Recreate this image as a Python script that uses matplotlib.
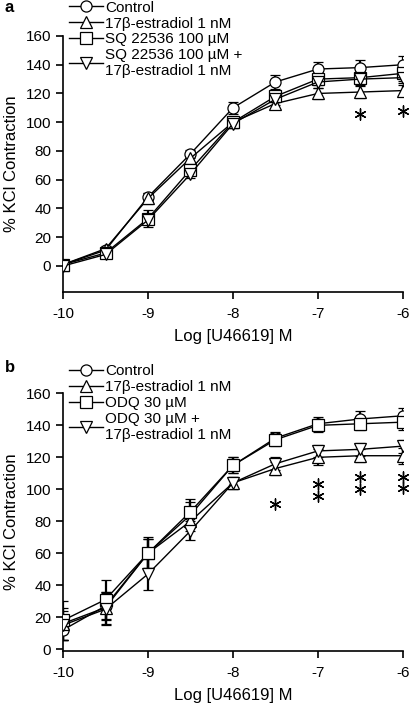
import numpy as np
import matplotlib
matplotlib.use('Agg')
import matplotlib.pyplot as plt

plt.rcParams['font.family'] = ['Liberation Sans', 'DejaVu Sans']
plt.rcParams['font.size'] = 11
plt.rcParams['axes.unicode_minus'] = False

log_conc = [-10, -9.5, -9, -8.5, -8, -7.5, -7, -6.5, -6]

# panel a
a_labels = ['Control', '17\u03b2-estradiol 1 nM', 'SQ 22536 100 \u00b5M',
            'SQ 22536 100 \u00b5M +\n17\u03b2-estradiol 1 nM']
a_control = [1, 11, 48, 78, 110, 128, 137, 138, 140]
a_control_err = [2, 2, 3, 3, 4, 5, 5, 5, 6]
a_e2 = [1, 12, 47, 75, 100, 113, 120, 121, 122]
a_e2_err = [2, 2, 4, 3, 3, 4, 4, 4, 4]
a_sq = [1, 9, 33, 67, 100, 118, 130, 131, 134]
a_sq_err = [2, 2, 6, 3, 3, 4, 4, 4, 5]
a_sq_e2 = [0, 8, 32, 64, 99, 116, 128, 130, 131]
a_sq_e2_err = [2, 2, 3, 3, 3, 4, 4, 4, 4]
a_star_x = [-6.5, -6]
a_star_y = [106, 108]

# panel b
b_labels = ['Control', '17\u03b2-estradiol 1 nM', 'ODQ 30 \u00b5M',
            'ODQ 30 \u00b5M +\n17\u03b2-estradiol 1 nM']
b_control = [12, 27, 60, 84, 115, 132, 141, 144, 146]
b_control_err = [6, 9, 9, 8, 5, 4, 4, 5, 5]
b_e2 = [16, 26, 60, 80, 104, 113, 120, 121, 121]
b_e2_err = [10, 10, 9, 6, 4, 4, 5, 4, 5]
b_odq = [18, 31, 60, 86, 115, 131, 140, 141, 142]
b_odq_err = [12, 12, 10, 8, 5, 4, 4, 4, 5]
b_odq_e2 = [15, 25, 47, 74, 104, 116, 124, 125, 127]
b_odq_e2_err = [9, 10, 10, 6, 4, 4, 4, 4, 4]
b_star_x = [-7.5, -7, -7, -6.5, -6.5, -6, -6]
b_star_y = [90.5, 103.5, 95.5, 107.5, 100, 108, 100.5]

markers = ['o', '^', 's', 'v']


def draw_panel(ax, series, errs, labels, star_x, star_y, ylo, tag, tag_y, leg_y):
    handles = []
    for y, e, m, lab in zip(series, errs, markers, labels):
        c = ax.errorbar(log_conc, y, yerr=e, fmt='-', marker=m, color='black',
                        mfc='white', mec='black', ms=8, mew=0.9, lw=1.0,
                        ecolor='black', elinewidth=1.6, capsize=3.5, capthick=1.6,
                        zorder=3)
        handles.append(c[0])
    ax.scatter(star_x, star_y, marker=(6, 2, 0), s=65, color='black', lw=1.0,
               clip_on=False)
    ax.set_xlim(-10, -6)
    ax.set_ylim(ylo, 160)
    ax.set_xticks([-10, -9, -8, -7, -6])
    ax.set_yticks(range(0, 161, 20))
    ax.spines['top'].set_visible(False)
    ax.spines['right'].set_visible(False)
    ax.spines['left'].set_linewidth(1.2)
    ax.spines['bottom'].set_linewidth(1.2)
    ax.tick_params(direction='out', length=5, width=1.2, labelsize=11)
    ax.tick_params(axis='x', pad=6)
    ax.set_xlabel('Log [U46619] M', fontsize=12, labelpad=6)
    ax.set_ylabel('% KCl Contraction', fontsize=12, labelpad=5)
    fig.text(0.012, tag_y, tag, fontsize=12, fontweight='bold',
             va='center', ha='left')
    ax.legend(handles, labels, loc='upper left', bbox_to_anchor=(0.168, leg_y),
              bbox_transform=fig.transFigure, frameon=False,
              handlelength=2.2, handletextpad=0.15, labelspacing=0.12,
              borderpad=0, borderaxespad=0, fontsize=11)


fig = plt.figure(figsize=(4.12, 7.05), dpi=100)
ax1 = fig.add_axes([0.153, 0.586, 0.825, 0.363])
ax2 = fig.add_axes([0.153, 0.077, 0.825, 0.365])

draw_panel(ax1, [a_control, a_e2, a_sq, a_sq_e2],
           [a_control_err, a_e2_err, a_sq_err, a_sq_e2_err],
           a_labels, a_star_x, a_star_y, -18, 'a', 0.989, 0.999)
draw_panel(ax2, [b_control, b_e2, b_odq, b_odq_e2],
           [b_control_err, b_e2_err, b_odq_err, b_odq_e2_err],
           b_labels, b_star_x, b_star_y, -1, 'b', 0.479, 0.483)

fig.savefig('out.png', dpi=100)
